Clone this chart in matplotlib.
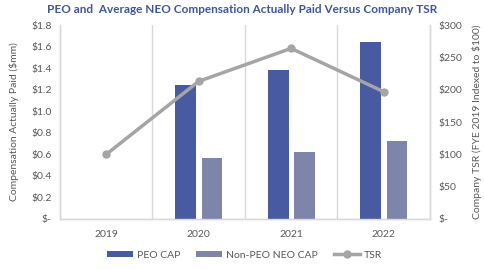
import matplotlib
matplotlib.use("Agg")
import matplotlib.pyplot as plt
import numpy as np

years = ["2019", "2020", "2021", "2022"]
peo_cap = [np.nan, 1.24, 1.38, 1.64]
non_peo_cap = [np.nan, 0.57, 0.62, 0.72]
tsr = [100, 213, 264, 197]

left_ticks = [0, 0.2, 0.4, 0.6, 0.8, 1.0, 1.2, 1.4, 1.6, 1.8]
right_ticks = [0, 50, 100, 150, 200, 250, 300]

plt.rcParams['font.family'] = ['Lato', 'DejaVu Sans']
txt = '#595959'
grid_c = '#D9D9D9'

fig = plt.figure(figsize=(4.84, 2.70), dpi=100)
ax = fig.add_axes([0.124, 0.189, 0.764, 0.718])
ax2 = ax.twinx()

x = np.arange(len(years))
w = 0.225
ax.bar(x - 0.14, peo_cap, w, color='#485BA2', label='PEO CAP', zorder=3)
ax.bar(x + 0.145, non_peo_cap, w, color='#7F85AA', label='Non-PEO NEO CAP', zorder=3)
ax2.plot(x, tsr, color='#A5A5A5', lw=2.5, marker='o', ms=5, label='TSR', zorder=4)

ax.set_xlim(-0.5, 3.5)
ax.set_ylim(0, 1.8)
ax2.set_ylim(0, 300)
ax.set_xticks(x)
ax.set_xticklabels(years)
ax.set_yticks(left_ticks)
ax.set_yticklabels(['$-' if v == 0 else f'${v:.1f}' for v in left_ticks])
ax2.set_yticks(right_ticks)
ax2.set_yticklabels(['$-' if v == 0 else f'${v}' for v in right_ticks])

for b in [0.5, 1.5, 2.5]:
    ax.axvline(b, color=grid_c, lw=1, zorder=1)

for a in (ax, ax2):
    a.tick_params(length=0, labelsize=7.5, colors=txt, pad=6)
    a.spines['top'].set_visible(False)
    for s in ['left', 'right', 'bottom']:
        a.spines[s].set_color(grid_c)
        a.spines[s].set_linewidth(1)
ax.tick_params(axis='x', pad=8)

ax.set_ylabel('Compensation Actually Paid ($mm)', fontsize=7.5, color=txt, labelpad=9)
ax2.set_ylabel('Company TSR (FYE 2019 Indexed to $100)', fontsize=7.5, color=txt, labelpad=7)

fig.suptitle('PEO and  Average NEO Compensation Actually Paid Versus Company TSR',
             x=0.5, y=0.985, fontsize=8.5, fontweight='bold', color='#4153A6')

h1, l1 = ax.get_legend_handles_labels()
h2, l2 = ax2.get_legend_handles_labels()
fig.legend(h1 + h2, l1 + l2, loc='center', bbox_to_anchor=(0.505, 0.055), ncol=3,
           frameon=False, fontsize=7.5, labelcolor=txt, handlelength=2.5,
           handleheight=0.5, columnspacing=1.5, handletextpad=0.4)

fig.savefig('out.png', dpi=100)
